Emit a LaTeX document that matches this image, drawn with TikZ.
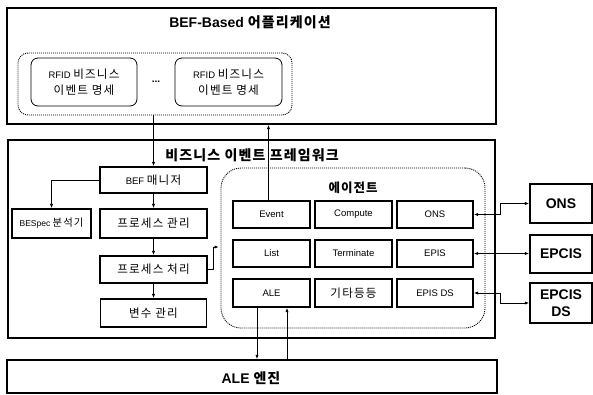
\documentclass[tikz,border=0pt]{standalone}
\usepackage{fontspec}
\setmainfont{Liberation Sans}
\newfontfamily\krfont[LetterSpace=8]{Noto Sans CJK KR}
\newfontfamily\krbigfont[Scale=1.22,LetterSpace=10]{Noto Sans CJK KR}
\newcommand{\kor}[1]{{\krfont #1}}
\newcommand{\korb}[1]{{\krbigfont #1}}
\usetikzlibrary{arrows.meta}
\begin{document}
\begin{tikzpicture}[x=1pt,y=-1pt,
  box/.style={draw, line width=1.1pt, rectangle, inner sep=0pt, align=center, font=\fontsize{9.5}{11}\selectfont},
  rbox/.style={draw, line width=0.8pt, rectangle, rounded corners=7pt, inner sep=0pt, align=center, font=\fontsize{9.5}{16}\selectfont},
  grp/.style={draw, line width=0.9pt, dash pattern=on 1pt off 1pt, rounded corners=#1, rectangle, inner sep=0pt},
  big/.style={draw, line width=1.2pt, rectangle, inner sep=0pt},
  title/.style={font=\fontsize{14}{16}\selectfont\bfseries, inner sep=0pt},
  ext/.style={draw, line width=1.2pt, rectangle, inner sep=0pt, align=center, font=\fontsize{14}{17}\selectfont\bfseries},
  arr/.style={-{Latex[length=4.5pt,width=3.2pt]}, line width=1pt},
  darr/.style={{Latex[length=4.5pt,width=3.2pt]}-{Latex[length=4.5pt,width=3.2pt]}, line width=1pt}
]
\useasboundingbox (0,0) rectangle (593,394);

% BEF-Based application
\node[big, minimum width=489pt, minimum height=116pt] (top) at (251.5,66) {};
\node[title] (toptitle) at (250,22) {BEF-Based \kor{어플리케이션}};
\node[grp=10pt, minimum width=274pt, minimum height=62pt] (rfidgrp) at (155,84) {};
\node[rbox, minimum width=106pt, minimum height=48pt] (rfid1) at (84,82) {RFID \korb{비즈니스}\\\korb{이벤트 명세}};
\node[rbox, minimum width=107pt, minimum height=48pt] (rfid2) at (228.5,82) {RFID \korb{비즈니스}\\\korb{이벤트 명세}};
\node[font=\bfseries, inner sep=0pt] (dots) at (156,82) {...};

% Framework
\node[big, minimum width=487pt, minimum height=198pt] (fw) at (251.5,239) {};
\node[title] (fwtitle) at (252,155) {\kor{비즈니스 이벤트 프레임워크}};
\node[box, minimum width=107pt, minimum height=26pt] (bef) at (153.5,180) {BEF \korb{매니저}};
\node[box, minimum width=79pt, minimum height=29pt, font=\fontsize{8.5}{10}\selectfont] (bespec) at (51.5,223.5) {BESpec \korb{분석기}};
\node[box, minimum width=107pt, minimum height=29pt] (pman) at (153.5,223.5) {\korb{프로세스 관리}};
\node[box, minimum width=107pt, minimum height=27pt] (pproc) at (153.5,269.5) {\korb{프로세스 처리}};
\node[box, minimum width=106pt, minimum height=28pt] (var) at (153.5,313) {\korb{변수 관리}};

% Agent
\node[grp=20pt, minimum width=264pt, minimum height=160pt] (agent) at (353,248) {};
\node[title, font=\fontsize{12.5}{14}\selectfont\bfseries] (agtitle) at (353,188) {\kor{에이전트}};
\node[box, minimum width=77pt, minimum height=27pt] (ev) at (271.5,214.5) {Event};
\node[box, minimum width=77pt, minimum height=27pt] (comp) at (353.5,214.5) {Compute};
\node[box, minimum width=76pt, minimum height=27pt] (ons) at (435,214.5) {ONS};
\node[box, minimum width=77pt, minimum height=27pt] (list) at (271.5,253.5) {List};
\node[box, minimum width=77pt, minimum height=27pt] (term) at (353.5,253.5) {Terminate};
\node[box, minimum width=76pt, minimum height=27pt] (epis) at (435,253.5) {EPIS};
\node[box, minimum width=77pt, minimum height=28pt] (ale) at (271.5,293) {ALE};
\node[box, minimum width=77pt, minimum height=28pt] (etc) at (353.5,293) {\korb{기타등등}};
\node[box, minimum width=76pt, minimum height=28pt] (episds) at (435,293) {EPIS DS};

% ALE engine
\node[big, minimum width=490pt, minimum height=33pt] (engine) at (252,376.5) {};
\node[title] (engtitle) at (251,378) {ALE \kor{엔진}};

% External
\node[ext, minimum width=62pt, minimum height=39pt] (xons) at (561,203.5) {ONS};
\node[ext, minimum width=62pt, minimum height=38pt] (xepcis) at (561,254) {EPCIS};
\node[ext, minimum width=62pt, minimum height=40pt] (xds) at (561,303) {EPCIS\\DS};

\coordinate (pj) at (219,247);

% Connectors
\draw[arr] (bef.north |- rfidgrp.south) -- (bef.north);
\draw[arr] ([xshift=-3pt]ev.north) -- ([xshift=-3pt]ev.north |- top.south);
\draw[arr] (bef.west) -| (bespec.north);
\draw[arr] (bef.south) -- (pman.north);
\draw[arr] (pman.south) -- (pproc.north);
\draw[arr] (pproc.south) -- (var.north);
\draw[arr] (pproc.east) -- ++(6,0) |- (pj);
\draw[arr] ([xshift=-14.5pt]ale.south) -- ([xshift=-14.5pt]ale.south |- engine.north);
\draw[arr] ([xshift=15.5pt]ale.south |- engine.north) -- ([xshift=15.5pt]ale.south);
\draw[darr] (ons.east) -- ++(27,0) |- (xons.west);
\draw[darr] (epis.east) -- (epis.east -| xepcis.west);
\draw[darr] (episds.east) -- ++(27,0) |- (xds.west);
\end{tikzpicture}
\end{document}
